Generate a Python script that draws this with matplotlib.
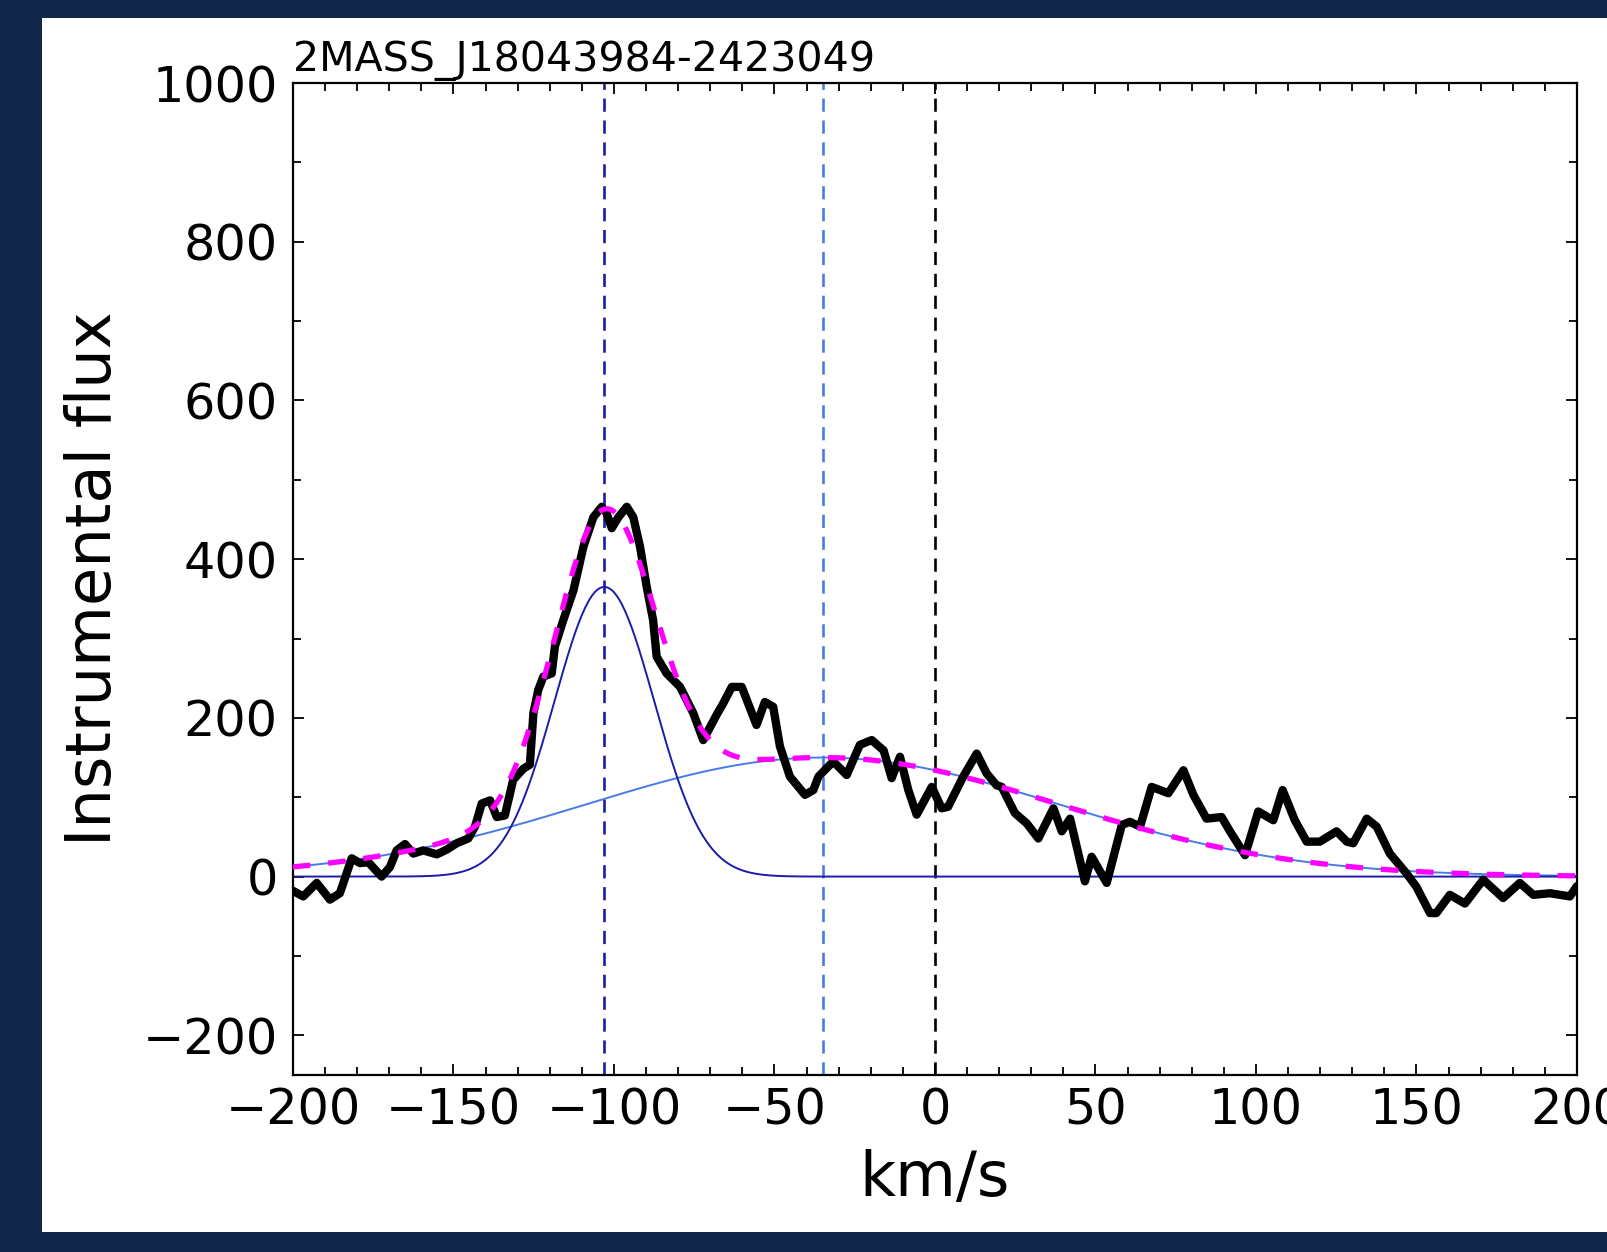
import numpy as np
import matplotlib
matplotlib.use("Agg")
import matplotlib.pyplot as plt
from matplotlib.patches import Rectangle
from matplotlib.ticker import MultipleLocator

# ---- data ----
velocity = [-200, -196.8, -192.6, -188.5, -185.4, -181.7, -179.1, -176.5, -172.4, -169.8,
            -167.7, -165.1, -162.5, -159.4, -155.2, -152.1, -149, -145.4, -143.3, -141.2,
            -138.6, -136.5, -134, -131.4, -128.2, -126.2, -125.1, -123.6, -122, -119.4,
            -118.4, -115.8, -112.6, -109.5, -106.4, -103.8, -102.3, -100.7, -98.6, -96,
            -94, -91.9, -89.8, -87.8, -86.7, -83.6, -79.4, -75.3, -72.2, -68,
            -66, -63.3, -60.2, -55.6, -53, -50.4, -48.3, -45.2, -40.5, -37.9,
            -36.3, -31.7, -27.5, -23.4, -19.7, -16, -13.5, -10.9, -8.3, -5.7,
            -1, 2.1, 4.1, 8.8, 13, 16.1, 19.2, 20.8, 24.9, 28.6,
            32.2, 36.9, 39.5, 42.1, 46.7, 48.8, 53.5, 58.2, 60.7, 63.9,
            67.5, 72.7, 77.4, 80.5, 84.6, 89.3, 91.9, 96.6, 100.7, 105.4,
            108.3, 112.1, 115.8, 119.9, 125.1, 128.3, 130.3, 134.5, 137.6, 141.7,
            146.9, 150, 154.2, 156.2, 160.4, 165.1, 170.8, 177, 182.2, 186.4,
            191.6, 194.7, 197.8, 200]
flux = [-18, -25, -8, -29, -21, 23, 17, 18, 0, 12,
        33, 41, 29, 33, 28, 34, 42, 48, 63, 92,
        96, 75, 77, 122, 136, 141, 206, 235, 252, 256,
        290, 323, 361, 416, 453, 466, 458, 439, 453, 466,
        453, 416, 365, 323, 277, 256, 239, 206, 172, 204,
        218, 239, 239, 191, 220, 214, 164, 126, 103, 109,
        126, 145, 128, 166, 172, 159, 124, 151, 109, 78,
        113, 86, 88, 126, 155, 130, 115, 113, 80, 67,
        48, 86, 57, 73, -6, 25, -8, 65, 69, 63,
        113, 105, 134, 103, 73, 75, 57, 27, 82, 71,
        109, 71, 44, 44, 57, 44, 42, 73, 63, 29,
        4, -13, -46, -46, -23, -34, -4, -27, -8, -23,
        -21, -23, -25, -12]

# Gaussian fit components (amplitude, centre, sigma)
narrow_amp, narrow_cen, narrow_sig = 365.0, -103.0, 15.5
broad_amp, broad_cen, broad_sig = 150.0, -35.0, 73.7
rest_velocity = 0.0

title_text = "2MASS_J18043984-2423049"
x_label = "km/s"
y_label = "Instrumental flux"

# ---- figure ----
navy = "#12284b"
fig = plt.figure(figsize=(16.08, 12.52), dpi=100, facecolor=navy)
fig.add_artist(Rectangle((0.0261, 0.016), 1.0, 0.9696, transform=fig.transFigure,
                         facecolor="white", edgecolor="none", zorder=0))
ax = fig.add_axes([0.1822, 0.1414, 0.9807 - 0.1822, 0.9337 - 0.1414])
ax.set_facecolor("white")

vgrid = np.linspace(-200, 200, 801)
g_narrow = narrow_amp * np.exp(-(vgrid - narrow_cen) ** 2 / (2 * narrow_sig ** 2))
g_broad = broad_amp * np.exp(-(vgrid - broad_cen) ** 2 / (2 * broad_sig ** 2))
g_total = g_narrow + g_broad

dark_blue = "#1c1ca8"
light_blue = "#4a7ae8"
vlw = 1.9
vdash = (0, (5.0, 3.3))
ax.axvline(narrow_cen, color=dark_blue, lw=vlw, ls=vdash, zorder=1)
ax.axvline(broad_cen, color=light_blue, lw=vlw, ls=vdash, zorder=1)
ax.axvline(rest_velocity, color="black", lw=vlw, ls=vdash, zorder=1)

ax.plot(vgrid, g_broad, color=light_blue, lw=1.4, zorder=2)
ax.plot(vgrid, g_narrow, color=dark_blue, lw=1.4, zorder=2)
ax.plot(velocity, flux, color="black", lw=6.0, zorder=3,
        solid_joinstyle="round", solid_capstyle="round")
ax.plot(vgrid, g_total, color="#ff00ff", lw=3.8, ls=(0, (3.3, 3.4)), zorder=4)

ax.set_xlim(-200, 200)
ax.set_ylim(-250, 1000)
ax.xaxis.set_major_locator(MultipleLocator(50))
ax.xaxis.set_minor_locator(MultipleLocator(10))
ax.yaxis.set_major_locator(MultipleLocator(200))
ax.yaxis.set_minor_locator(MultipleLocator(100))
ax.tick_params(which="both", direction="in", top=True, right=True, width=1.3, colors="black")
ax.tick_params(which="major", length=8, labelsize=35.5)
ax.tick_params(axis="x", which="major", pad=8)
ax.tick_params(axis="y", which="major", pad=11)
ax.tick_params(which="minor", length=5.5)
for s in ax.spines.values():
    s.set_linewidth(1.6)

ax.set_xlabel(x_label, fontsize=45, labelpad=11)
ax.set_ylabel(y_label, fontsize=45, labelpad=13)
ax.set_title(title_text, loc="left", fontsize=29.6, pad=9)

fig.savefig("out.png", dpi=100, facecolor=fig.get_facecolor())
